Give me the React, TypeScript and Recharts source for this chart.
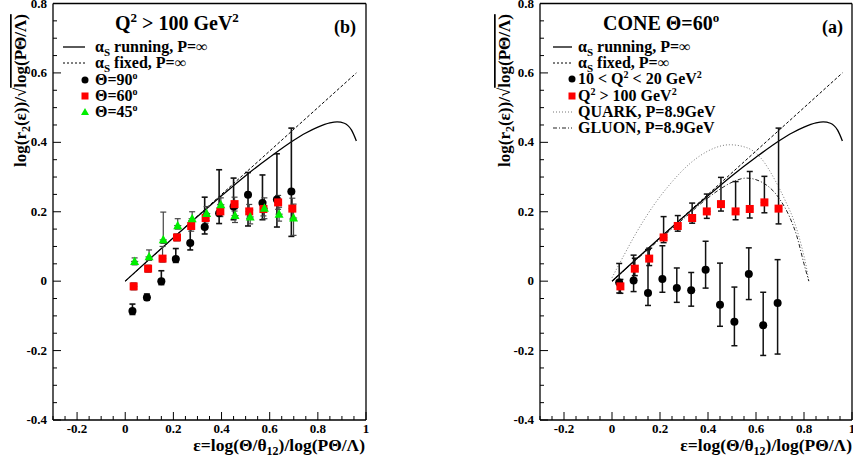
import React from "react";
import {
  ComposedChart,
  XAxis,
  YAxis,
  Scatter,
  Line,
  ErrorBar,
} from "recharts";

// axis ticks
const xTicks = [
  -0.3, -0.25, -0.2, -0.15, -0.1, -0.05, 0, 0.05, 0.1, 0.15, 0.2, 0.25, 0.3, 0.35, 0.4,
  0.45, 0.5, 0.55, 0.6, 0.65, 0.7, 0.75, 0.8, 0.85, 0.9, 0.95, 1,
];
const xMajor = [-0.2, 0, 0.2, 0.4, 0.6, 0.8, 1];
const yTicks = [
  -0.4, -0.35, -0.3, -0.25, -0.2, -0.15, -0.1, -0.05, 0, 0.05, 0.1, 0.15, 0.2, 0.25, 0.3,
  0.35, 0.4, 0.45, 0.5, 0.55, 0.6, 0.65, 0.7, 0.75, 0.8,
];
const yMajor = [-0.4, -0.2, 0, 0.2, 0.4, 0.6, 0.8];

// theory curves
const runEps = [0, 0.1, 0.2, 0.3, 0.4, 0.5, 0.6, 0.7, 0.75, 0.8, 0.85, 0.88, 0.91, 0.94, 0.96];
const runY = [0, 0.063, 0.125, 0.186, 0.246, 0.304, 0.357, 0.406, 0.427, 0.444, 0.456, 0.459, 0.455, 0.435, 0.404];
const fixedEps = [0, 0.96];
const fixedY = [0, 0.6];
const quarkEps = [0, 0.05, 0.1, 0.17, 0.24, 0.33, 0.4, 0.49, 0.56, 0.62, 0.68, 0.72, 0.76, 0.79, 0.81, 0.82];
const quarkY = [0.01, 0.075, 0.138, 0.215, 0.278, 0.342, 0.375, 0.393, 0.385, 0.355, 0.29, 0.235, 0.17, 0.1, 0.04, 0.0];
const gluonEps = [0, 0.1, 0.2, 0.3, 0.4, 0.45, 0.5, 0.56, 0.63, 0.7, 0.74, 0.77, 0.8, 0.82];
const gluonY = [0, 0.061, 0.121, 0.181, 0.24, 0.265, 0.285, 0.297, 0.283, 0.235, 0.185, 0.13, 0.05, 0.0];

// measured points
const binHalf = 0.015;
const blackEps = [0.03, 0.09, 0.15, 0.21, 0.27, 0.33, 0.39, 0.45, 0.51, 0.57, 0.63, 0.69];
const redEps = [0.035, 0.095, 0.155, 0.215, 0.274, 0.334, 0.395, 0.454, 0.515, 0.574, 0.635, 0.694];
const greenEps = [0.039, 0.099, 0.158, 0.218, 0.278, 0.338, 0.397, 0.456, 0.519, 0.578, 0.639, 0.699];

// (b) Q2 > 100 GeV2
const th90Y = [-0.086, -0.047, 0.0, 0.064, 0.11, 0.156, 0.196, 0.215, 0.249, 0.225, 0.235, 0.258];
const th90Up = [0.02, 0.01, 0.03, 0.03, 0.05, 0.086, 0.125, 0.082, 0.064, 0.081, 0.132, 0.183];
const th90Dn = [0.01, 0.008, 0.01, 0.01, 0.02, 0.02, 0.03, 0.038, 0.09, 0.048, 0.079, 0.129];
const th60Y = [-0.015, 0.036, 0.065, 0.126, 0.159, 0.182, 0.201, 0.222, 0.201, 0.208, 0.227, 0.209];
const th60Up = [0.01, 0.01, 0.035, 0.01, 0.015, 0.015, 0.02, 0.02, 0.02, 0.02, 0.02, 0.03];
const th60Dn = [0.01, 0.01, 0.01, 0.01, 0.015, 0.015, 0.015, 0.02, 0.02, 0.02, 0.02, 0.03];
const th45Y = [0.057, 0.07, 0.119, 0.16, 0.18, 0.195, 0.22, 0.189, 0.185, 0.21, 0.193, 0.182];
const th45Up = [0.01, 0.02, 0.08, 0.02, 0.02, 0.02, 0.02, 0.02, 0.02, 0.03, 0.02, 0.04];
const th45Dn = [0.01, 0.01, 0.01, 0.01, 0.01, 0.02, 0.02, 0.02, 0.02, 0.03, 0.02, 0.05];

// (a) cone 60 deg
const hiQY = [-0.015, 0.036, 0.065, 0.126, 0.159, 0.182, 0.201, 0.222, 0.201, 0.208, 0.227, 0.209];
const hiQUp = [0.02, 0.03, 0.03, 0.06, 0.03, 0.043, 0.05, 0.077, 0.086, 0.108, 0.075, 0.232];
const hiQDn = [0.02, 0.02, 0.02, 0.015, 0.015, 0.015, 0.02, 0.02, 0.024, 0.026, 0.03, 0.044];
const loQY = [-0.004, 0.002, -0.034, 0.006, -0.02, -0.026, 0.033, -0.068, -0.117, 0.021, -0.127, -0.063];
const loQUp = [0.055, 0.073, 0.125, 0.096, 0.058, 0.051, 0.082, 0.12, 0.1, 0.075, 0.095, 0.125];
const loQDn = [0.03, 0.032, 0.036, 0.038, 0.041, 0.046, 0.053, 0.062, 0.069, 0.074, 0.087, 0.147];

const curve = (xs: number[], ys: number[]) => xs.map((x, i) => ({ x, y: ys[i] }));
const points = (xs: number[], ys: number[], up: number[], dn: number[]) =>
  xs.map((x, i) => ({ x, y: ys[i], ey: [dn[i], up[i]], ex: binHalf }));

const FONT = "'Liberation Serif', 'Times New Roman', serif";
const near = (v: number, list: number[]) => list.some((m) => Math.abs(m - v) < 1e-6);
const fmt = (v: number) => (Math.abs(v) < 1e-9 ? "0" : String(Math.round(v * 10) / 10));

const XTick = (props: any) => {
  const { x, y, payload } = props;
  const major = near(payload.value, xMajor);
  return (
    <g>
      <line x1={x} x2={x} y1={y} y2={y - (major ? 8 : 4)} stroke="#000" />
      {major && (
        <text x={x} y={y + 13} textAnchor="middle" fontSize={13} fontWeight="bold" fontFamily={FONT}>
          {fmt(payload.value)}
        </text>
      )}
    </g>
  );
};

const YTick = (props: any) => {
  const { x, y, payload } = props;
  const major = near(payload.value, yMajor);
  return (
    <g>
      <line x1={x} x2={x + (major ? 8 : 4)} y1={y} y2={y} stroke="#000" />
      {major && (
        <text x={x - 6} y={y + 4} textAnchor="end" fontSize={13} fontWeight="bold" fontFamily={FONT}>
          {fmt(payload.value)}
        </text>
      )}
    </g>
  );
};

const Dot = (p: any) => <circle cx={p.cx} cy={p.cy} r={4} fill="#000" />;
const Sq = (p: any) => <rect x={p.cx - 4} y={p.cy - 4} width={8} height={8} fill="#ff0000" />;
const Tri = (p: any) => (
  <polygon points={`${p.cx},${p.cy - 5} ${p.cx - 4.5},${p.cy + 3.5} ${p.cx + 4.5},${p.cy + 3.5}`} fill="#00ee00" />
);

const axisStroke = { stroke: "#000", strokeWidth: 1.3 };

// bottom/left axes carry ticks; top/right axes only close the frame
const axes = () => [
  <XAxis key="xb" type="number" dataKey="x" domain={[-0.3, 1]} allowDataOverflow ticks={xTicks} interval={0} height={1} tickSize={0} tickMargin={0} tickLine={false} tick={<XTick />} axisLine={axisStroke} />,
  <XAxis key="xt" xAxisId="top" orientation="top" type="number" dataKey="x" domain={[-0.3, 1]} allowDataOverflow height={1} tick={false} tickLine={false} axisLine={axisStroke} />,
  <YAxis key="yl" type="number" dataKey="y" domain={[-0.4, 0.8]} allowDataOverflow ticks={yTicks} interval={0} width={1} tickSize={0} tickMargin={0} tickLine={false} tick={<YTick />} axisLine={axisStroke} />,
  <YAxis key="yr" yAxisId="right" orientation="right" type="number" dataKey="y" domain={[-0.4, 0.8]} allowDataOverflow width={1} tick={false} tickLine={false} axisLine={axisStroke} />,
];

const runData = curve(runEps, runY);
const fixedData = curve(fixedEps, fixedY);

function PanelB() {
  return (
    <ComposedChart width={430} height={464} margin={{ top: 2.5, right: 63, bottom: 43, left: 52 }}>
      {axes()}
      <Line data={fixedData} dataKey="y" type="linear" stroke="#000" strokeWidth={1} strokeDasharray="3 2" dot={false} isAnimationActive={false} />
      <Line data={runData} dataKey="y" type="monotone" stroke="#000" strokeWidth={1.3} dot={false} isAnimationActive={false} />
      <Scatter data={points(blackEps, th90Y, th90Up, th90Dn)} shape={Dot} isAnimationActive={false}>
        <ErrorBar dataKey="ey" direction="y" width={3} stroke="#111" strokeWidth={1.6} />
        <ErrorBar dataKey="ex" direction="x" width={0} stroke="#111" strokeWidth={1.2} />
      </Scatter>
      <Scatter data={points(redEps, th60Y, th60Up, th60Dn)} shape={Sq} isAnimationActive={false}>
        <ErrorBar dataKey="ey" direction="y" width={3} stroke="#444" strokeWidth={1.2} />
        <ErrorBar dataKey="ex" direction="x" width={0} stroke="#444" strokeWidth={1} />
      </Scatter>
      <Scatter data={points(greenEps, th45Y, th45Up, th45Dn)} shape={Tri} isAnimationActive={false}>
        <ErrorBar dataKey="ey" direction="y" width={3} stroke="#444" strokeWidth={1.2} />
        <ErrorBar dataKey="ex" direction="x" width={0} stroke="#444" strokeWidth={1} />
      </Scatter>
    </ComposedChart>
  );
}

function PanelA() {
  return (
    <ComposedChart width={423} height={464} margin={{ top: 2.5, right: 0, bottom: 43, left: 109 }}>
      {axes()}
      <Line data={curve(quarkEps, quarkY)} dataKey="y" type="monotone" stroke="#777" strokeWidth={1} strokeDasharray="1 2" dot={false} isAnimationActive={false} />
      <Line data={curve(gluonEps, gluonY)} dataKey="y" type="monotone" stroke="#222" strokeWidth={1} strokeDasharray="4 2 1 2" dot={false} isAnimationActive={false} />
      <Line data={fixedData} dataKey="y" type="linear" stroke="#000" strokeWidth={1} strokeDasharray="3 2" dot={false} isAnimationActive={false} />
      <Line data={runData} dataKey="y" type="monotone" stroke="#000" strokeWidth={1.3} dot={false} isAnimationActive={false} />
      <Scatter data={points(blackEps, loQY, loQUp, loQDn)} shape={Dot} isAnimationActive={false}>
        <ErrorBar dataKey="ey" direction="y" width={3} stroke="#111" strokeWidth={1.5} />
        <ErrorBar dataKey="ex" direction="x" width={0} stroke="#111" strokeWidth={1.2} />
      </Scatter>
      <Scatter data={points(redEps, hiQY, hiQUp, hiQDn)} shape={Sq} isAnimationActive={false}>
        <ErrorBar dataKey="ey" direction="y" width={3} stroke="#111" strokeWidth={1.5} />
        <ErrorBar dataKey="ex" direction="x" width={0} stroke="#444" strokeWidth={1} />
      </Scatter>
    </ComposedChart>
  );
}

function Overlay() {
  const t = { fontFamily: FONT, fontWeight: "bold" as const };
  const fs = 16;
  const legL = { x0: 63, x1: 85, tx: 95 };
  const legR = { x0: 553, x1: 572, tx: 578 };
  const rowsL = [47, 63, 80, 96, 112];
  const rowsR = [47, 63, 79, 96, 112, 128];
  const alphaRow = (leg: any, y: number, label: string, dash?: string) => (
    <g key={label}>
      <line x1={leg.x0} x2={leg.x1} y1={y} y2={y} stroke="#000" strokeWidth={dash ? 1 : 1.3} strokeDasharray={dash} />
      <text x={leg.tx} y={y + 5} fontSize={fs} {...t}>
        {"\u03b1"}
        <tspan dy={4} fontSize={11}>S</tspan>
        <tspan dy={-4}>{label}</tspan>
      </text>
    </g>
  );
  const yLabel = (x: number) => (
    <text transform={`rotate(-90, ${x}, 167)`} x={x} y={167} fontSize={17} {...t}>
      log(r<tspan dy={4} fontSize={12}>2</tspan>
      <tspan dy={-4}>(ε))/√</tspan>
      <tspan textDecoration="overline">log(PΘ/Λ)</tspan>
    </text>
  );
  const xLabel = (x: number) => (
    <text x={x} y={451} textAnchor="end" fontSize={17.5} {...t}>
      ε=log(Θ/θ<tspan dy={4} fontSize={12}>12</tspan>
      <tspan dy={-4}>)/log(PΘ/Λ)</tspan>
    </text>
  );
  return (
    <svg width={853} height={464} style={{ position: "absolute", left: 0, top: 0, pointerEvents: "none" }}>
      {/* panel b */}
      <text x={115} y={30} fontSize={20} {...t}>
        Q<tspan dy={-8} fontSize={13}>2</tspan>
        <tspan dy={8}>{" > 100 GeV"}</tspan>
        <tspan dy={-8} fontSize={13}>2</tspan>
      </text>
      <text x={334} y={33} fontSize={18} {...t}>(b)</text>
      {alphaRow(legL, rowsL[0], " running, P=\u221e")}
      {alphaRow(legL, rowsL[1], " fixed, P=\u221e", "2 2")}
      <circle cx={legL.x1} cy={rowsL[2]} r={3.5} fill="#000" />
      <text x={legL.tx} y={rowsL[2] + 5} fontSize={fs} {...t}>
        Θ=90<tspan dy={-6} fontSize={10}>o</tspan>
      </text>
      <rect x={legL.x1 - 3.5} y={rowsL[3] - 3.5} width={7} height={7} fill="#ff0000" />
      <text x={legL.tx} y={rowsL[3] + 5} fontSize={fs} {...t}>
        Θ=60<tspan dy={-6} fontSize={10}>o</tspan>
      </text>
      <polygon points={`${legL.x1},${rowsL[4] - 4} ${legL.x1 - 4},${rowsL[4] + 3} ${legL.x1 + 4},${rowsL[4] + 3}`} fill="#00ee00" />
      <text x={legL.tx} y={rowsL[4] + 5} fontSize={fs} {...t}>
        Θ=45<tspan dy={-6} fontSize={10}>o</tspan>
      </text>
      {yLabel(26)}
      {xLabel(365)}

      {/* panel a */}
      <text x={603} y={30} fontSize={20} {...t}>
        CONE Θ=60<tspan dy={-8} fontSize={13}>o</tspan>
      </text>
      <text x={822} y={33} fontSize={18} {...t}>(a)</text>
      {alphaRow(legR, rowsR[0], " running, P=\u221e")}
      {alphaRow(legR, rowsR[1], " fixed, P=\u221e", "2 2")}
      <circle cx={legR.x1} cy={rowsR[2]} r={3.5} fill="#000" />
      <text x={legR.tx} y={rowsR[2] + 5} fontSize={fs} {...t}>
        {"10 < Q"}<tspan dy={-6} fontSize={10}>2</tspan>
        <tspan dy={6}>{" < 20 GeV"}</tspan>
        <tspan dy={-6} fontSize={10}>2</tspan>
      </text>
      <rect x={legR.x1 - 3.5} y={rowsR[3] - 3.5} width={7} height={7} fill="#ff0000" />
      <text x={legR.tx} y={rowsR[3] + 5} fontSize={fs} {...t}>
        Q<tspan dy={-6} fontSize={10}>2</tspan>
        <tspan dy={6}>{" > 100 GeV"}</tspan>
        <tspan dy={-6} fontSize={10}>2</tspan>
      </text>
      <line x1={legR.x0} x2={legR.x1} y1={rowsR[4]} y2={rowsR[4]} stroke="#777" strokeDasharray="1 2" />
      <text x={legR.tx} y={rowsR[4] + 5} fontSize={fs} {...t}>QUARK, P=8.9GeV</text>
      <line x1={legR.x0} x2={legR.x1} y1={rowsR[5]} y2={rowsR[5]} stroke="#222" strokeDasharray="4 2 1 2" />
      <text x={legR.tx} y={rowsR[5] + 5} fontSize={fs} {...t}>GLUON, P=8.9GeV</text>
      {yLabel(510)}
      {xLabel(852)}
    </svg>
  );
}

export default function App() {
  return (
    <div style={{ position: "absolute", left: 0, top: 0, width: 853, height: 464, background: "#fff", overflow: "hidden" }}>
      <div style={{ position: "absolute", left: 0, top: 0 }}>
        <PanelB />
      </div>
      <div style={{ position: "absolute", left: 430, top: 0 }}>
        <PanelA />
      </div>
      <Overlay />
    </div>
  );
}
